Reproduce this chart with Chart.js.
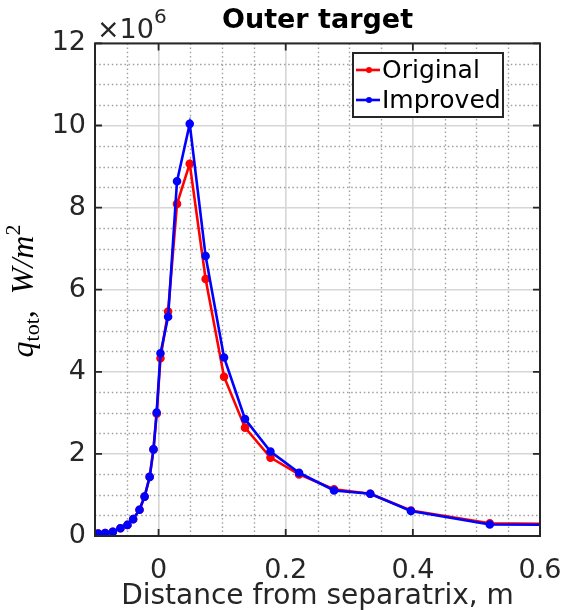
<!DOCTYPE html>
<html>
<head>
<meta charset="utf-8">
<script src="https://cdn.jsdelivr.net/npm/chart.js@4/dist/chart.umd.min.js"></script>
<style>
  html, body { margin: 0; padding: 0; background: #fff; }
  #wrap { width: 569px; height: 610px; }
</style>
</head>
<body>
<div id="wrap"><canvas id="chart" width="569" height="610"></canvas></div>
<script>
// distance from separatrix (m)
var distance = [-0.095, -0.084, -0.072, -0.060, -0.049, -0.040, -0.030, -0.022, -0.014, -0.008,
                -0.003, 0.003, 0.015, 0.029, 0.049, 0.074, 0.103, 0.136, 0.176, 0.221,
                0.276, 0.333, 0.397, 0.521, 0.65];
// q_tot in units of 1e6 W/m^2
var original = [0.06, 0.07, 0.10, 0.19, 0.27, 0.41, 0.64, 0.96, 1.44, 2.11,
                2.98, 4.33, 5.47, 8.09, 9.07, 6.26, 3.88, 2.64, 1.91, 1.50,
                1.14, 1.03, 0.62, 0.31, 0.29];
var improved = [0.06, 0.07, 0.10, 0.19, 0.27, 0.41, 0.64, 0.96, 1.44, 2.11,
                3.01, 4.45, 5.34, 8.64, 10.04, 6.82, 4.35, 2.85, 2.06, 1.54,
                1.11, 1.03, 0.61, 0.28, 0.27];
var xTicks = [0, 0.2, 0.4, 0.6];
var yTicks = [0, 2, 4, 6, 8, 10, 12];
var xMinor = [-0.05, 0.05, 0.1, 0.15, 0.25, 0.3, 0.35, 0.45, 0.5, 0.55];
var yMinor = [0.5, 1, 1.5, 2.5, 3, 3.5, 4.5, 5, 5.5, 6.5, 7, 7.5, 8.5, 9, 9.5, 10.5, 11, 11.5];

var textColor = '#262626';

function pts(ys) {
  return distance.map(function (x, i) { return { x: x, y: ys[i] }; });
}

// dotted minor grid, inner ticks, box, legend and the extra labels
var axesBox = {
  id: 'axesBox',
  beforeDatasetsDraw: function (chart) {
    var ctx = chart.ctx, a = chart.chartArea;
    var xs = chart.scales.x, ys = chart.scales.y;
    ctx.save();
    ctx.strokeStyle = '#a0a0a0';
    ctx.lineWidth = 1.4;
    ctx.setLineDash([1.5, 2.7]);
    xMinor.forEach(function (v) {
      var px = Math.round(xs.getPixelForValue(v)) + 0.5;
      ctx.beginPath(); ctx.moveTo(px, a.top); ctx.lineTo(px, a.bottom); ctx.stroke();
    });
    yMinor.forEach(function (v) {
      var py = Math.round(ys.getPixelForValue(v)) + 0.5;
      ctx.beginPath(); ctx.moveTo(a.left, py); ctx.lineTo(a.right, py); ctx.stroke();
    });
    ctx.restore();
  },
  afterDatasetsDraw: function (chart) {
    var ctx = chart.ctx, a = chart.chartArea;
    var xs = chart.scales.x, ys = chart.scales.y;
    ctx.save();
    ctx.strokeStyle = '#262626';
    ctx.lineWidth = 1.8;
    xTicks.forEach(function (v) {
      var px = xs.getPixelForValue(v);
      ctx.beginPath();
      ctx.moveTo(px, a.bottom); ctx.lineTo(px, a.bottom - 7);
      ctx.moveTo(px, a.top); ctx.lineTo(px, a.top + 7);
      ctx.stroke();
    });
    yTicks.forEach(function (v) {
      var py = ys.getPixelForValue(v);
      ctx.beginPath();
      ctx.moveTo(a.left, py); ctx.lineTo(a.left + 7, py);
      ctx.moveTo(a.right, py); ctx.lineTo(a.right - 7, py);
      ctx.stroke();
    });
    ctx.lineWidth = 2;
    ctx.strokeRect(a.left, a.top, a.right - a.left, a.bottom - a.top);

    // legend
    var lx = 353, ly = 53, lw = 150, lh = 64;
    ctx.fillStyle = '#fff';
    ctx.fillRect(lx, ly, lw, lh);
    ctx.lineWidth = 2;
    ctx.strokeStyle = '#262626';
    ctx.strokeRect(lx, ly, lw, lh);
    ctx.font = '25px "DejaVu Sans"';
    ctx.textBaseline = 'middle';
    chart.data.datasets.forEach(function (ds, i) {
      var cy = ly + 17 + i * 30;
      ctx.strokeStyle = ds.borderColor;
      ctx.lineWidth = 2.6;
      ctx.beginPath(); ctx.moveTo(lx + 3, cy); ctx.lineTo(lx + 27, cy); ctx.stroke();
      ctx.fillStyle = ds.borderColor;
      ctx.beginPath(); ctx.arc(lx + 16, cy, 3, 0, Math.PI * 2); ctx.fill();
      ctx.fillStyle = '#000';
      ctx.textAlign = 'left';
      ctx.fillText(ds.label, lx + 29, cy + 1);
    });

    // exponent over y axis
    ctx.fillStyle = textColor;
    ctx.textAlign = 'left';
    ctx.textBaseline = 'alphabetic';
    ctx.font = '27px "DejaVu Sans"';
    ctx.fillText('\u00d710', a.left + 2, 38);
    var w = ctx.measureText('\u00d710').width;
    ctx.font = '20px "DejaVu Sans"';
    ctx.fillText('6', a.left + 2 + w, 23);

    // y axis title
    ctx.translate(33, 291);
    ctx.rotate(-Math.PI / 2);
    var parts = [
      { t: 'q', f: 'italic 32px "Liberation Serif"', dy: 0 },
      { t: 'tot', f: '22px "Liberation Serif"', dy: 6 },
      { t: ',  ', f: '32px "Liberation Serif"', dy: 0 },
      { t: 'W/m', f: 'italic 32px "Liberation Serif"', dy: 0 },
      { t: '2', f: '22px "Liberation Serif"', dy: -13 }
    ];
    var total = 0;
    parts.forEach(function (p) { ctx.font = p.f; p.w = ctx.measureText(p.t).width; total += p.w; });
    var cx = -total / 2;
    ctx.fillStyle = '#000';
    parts.forEach(function (p) {
      ctx.font = p.f;
      ctx.fillText(p.t, cx, p.dy);
      cx += p.w;
    });
    ctx.restore();
  }
};

new Chart(document.getElementById('chart').getContext('2d'), {
  type: 'line',
  data: {
    datasets: [{
      label: 'Original',
      data: pts(original),
      borderColor: '#ff0000',
      backgroundColor: '#ff0000',
      borderWidth: 2.6,
      pointRadius: 3,
      pointHoverRadius: 3,
      tension: 0,
      order: 1
    }, {
      label: 'Improved',
      data: pts(improved),
      borderColor: '#0000ff',
      backgroundColor: '#0000ff',
      borderWidth: 2.6,
      pointRadius: 3,
      pointHoverRadius: 3,
      tension: 0,
      order: 0
    }]
  },
  options: {
    responsive: false,
    animation: false,
    layout: { padding: { top: 5, left: 0, right: 29, bottom: 0 } },
    plugins: {
      legend: { display: false },
      tooltip: { enabled: false },
      title: {
        display: true,
        text: 'Outer target',
        fullSize: false,
        color: '#000',
        font: { family: 'DejaVu Sans', size: 27, weight: 'bold', lineHeight: 1.2 },
        padding: { top: 0, bottom: 6 }
      }
    },
    scales: {
      x: {
        type: 'linear',
        min: -0.1,
        max: 0.6,
        afterBuildTicks: function (s) { s.ticks = xTicks.map(function (v) { return { value: v }; }); },
        afterFit: function (s) { s.height = 74; s.paddingRight = 0; s.paddingLeft = 0; },
        grid: { color: '#d6d6d6', lineWidth: 1.6, drawTicks: false },
        border: { display: false },
        ticks: {
          color: textColor,
          padding: 19,
          maxRotation: 0,
          font: { family: 'DejaVu Sans', size: 27 },
          callback: function (v) { return String(v); }
        },
        title: {
          display: true,
          text: 'Distance from separatrix, m',
          color: textColor,
          font: { family: 'DejaVu Sans', size: 28, lineHeight: 1 },
          padding: { top: 0, bottom: -1 }
        }
      },
      y: {
        type: 'linear',
        min: 0,
        max: 12,
        afterBuildTicks: function (s) { s.ticks = yTicks.map(function (v) { return { value: v }; }); },
        afterFit: function (s) { s.width = 95; },
        grid: { color: '#d6d6d6', lineWidth: 1.6, drawTicks: false },
        border: { display: false },
        ticks: {
          color: textColor,
          padding: 9,
          font: { family: 'DejaVu Sans', size: 27 },
          callback: function (v) { return String(v); }
        }
      }
    }
  },
  plugins: [axesBox]
});
</script>
</body>
</html>
